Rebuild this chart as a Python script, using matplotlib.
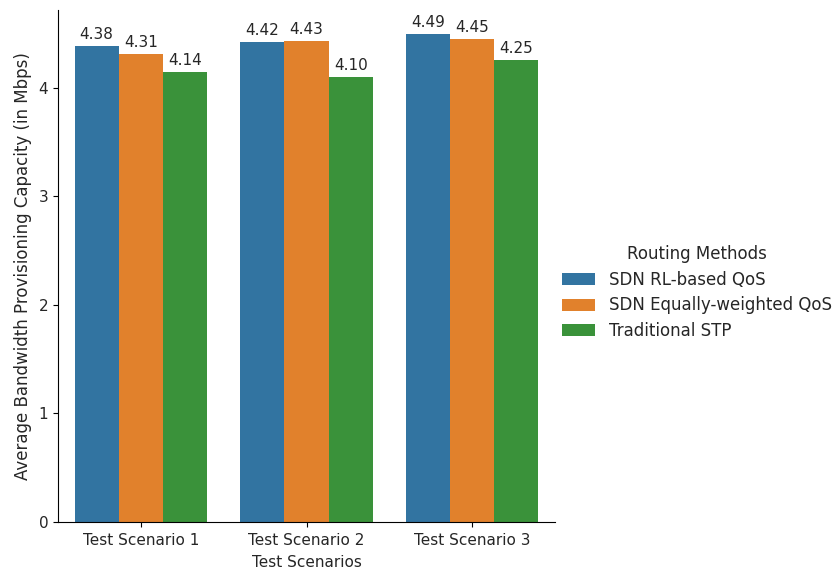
import matplotlib
matplotlib.use("Agg")
import matplotlib.pyplot as plt
import numpy as np

plt.rcParams["font.size"] = 11
plt.rcParams["text.color"] = "#262626"
plt.rcParams["axes.labelcolor"] = "#262626"
plt.rcParams["xtick.labelcolor"] = "#262626"
plt.rcParams["ytick.labelcolor"] = "#262626"

scenarios = ["Test Scenario 1", "Test Scenario 2", "Test Scenario 3"]
methods = ["SDN RL-based QoS", "SDN Equally-weighted QoS", "Traditional STP"]
rl_qos = [4.38, 4.42, 4.49]
eq_qos = [4.31, 4.43, 4.45]
stp = [4.14, 4.10, 4.25]
series = [rl_qos, eq_qos, stp]
colors = ["#3274a1", "#e1812c", "#3a923a"]

fig = plt.figure(figsize=(8.34, 5.74), dpi=100)
ax = fig.add_axes([58/834, 1-522/574, (555-58)/834, (522-10)/574])

x = np.arange(len(scenarios))
w = 0.8 / len(methods)
for i, (vals, c, m) in enumerate(zip(series, colors, methods)):
    bars = ax.bar(x - 0.4 + w/2 + i*w, vals, width=w, color=c, label=m)
    ax.bar_label(bars, fmt="%.2f", padding=3, fontsize=11)

ax.set_xlim(-0.5, 2.5)
ax.set_ylim(0, 4.715)
ax.set_xticks(x)
ax.set_xticklabels(scenarios)
ax.set_yticks([0, 1, 2, 3, 4])
ax.tick_params(axis="x", pad=4.5)
ax.set_xlabel("Test Scenarios", labelpad=5, fontsize=11)
ax.set_ylabel("Average Bandwidth Provisioning Capacity (in Mbps)", fontsize=12, labelpad=5)
ax.spines["top"].set_visible(False)
ax.spines["right"].set_visible(False)

leg = fig.legend(loc="center left", bbox_to_anchor=(547/834, 0.49), frameon=False,
                 title="Routing Methods", fontsize=12, title_fontsize=12,
                 handlelength=2.0, handleheight=0.75, handletextpad=0.8,
                 labelspacing=0.45)

fig.savefig("out.png", dpi=100)
